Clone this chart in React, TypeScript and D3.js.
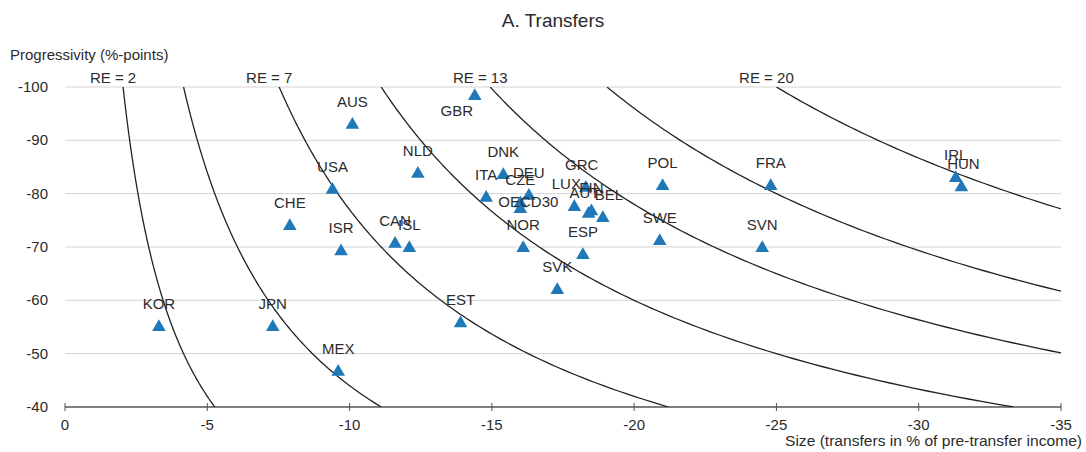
import * as d3 from "d3";
import { useEffect, useRef } from "react";

// country codes and their (size, progressivity)
const countries = ["KOR", "JPN", "MEX", "CHE", "ISR", "USA", "AUS", "NLD", "CAN", "ISL", "EST", "GBR", "ITA", "DNK", "DEU", "CZE", "OECD30", "NOR", "SVK", "ESP", "LUX", "GRC", "AUT", "FIN", "BEL", "SWE", "POL", "SVN", "FRA", "IRL", "HUN"];
const sizes = [-3.3, -7.3, -9.6, -7.9, -9.7, -9.4, -10.1, -12.4, -11.6, -12.1, -13.9, -14.4, -14.8, -15.4, -16.3, -16.0, -16.0, -16.1, -17.3, -18.2, -17.9, -18.3, -18.4, -18.5, -18.9, -20.9, -21.0, -24.5, -24.8, -31.3, -31.5];
const progressivity = [-55.0, -55.0, -46.6, -73.9, -69.2, -80.7, -92.9, -83.7, -70.6, -69.8, -55.7, -98.3, -79.2, -83.5, -79.6, -78.2, -77.1, -69.8, -61.9, -68.5, -77.5, -81.1, -76.2, -76.7, -75.4, -71.1, -81.4, -69.8, -81.4, -82.9, -81.2];

// iso redistributive-effect curves
const reLevels = [2, 4, 7, 10, 13, 16, 20];
const reLabelled = [2, 7, 13, 20];

const xTicks = [0, -5, -10, -15, -20, -25, -30, -35];
const yTicks = [-100, -90, -80, -70, -60, -50, -40];

// label nudges where the default (centred above) spot was not used
const labelNudge: Record<string, [number, number]> = {
	GBR: [-18, 38],
	OECD30: [8, 16],
	LUX: [-8, 0],
	GRC: [-4, 0],
	AUT: [-4, 2],
	BEL: [6, 0],
	HUN: [2, 0],
};

const W = 1086;
const H = 452;
const FONT = "'Liberation Sans', Arial, sans-serif";
const TEXT = "#2b2b2b";
const BLUE = "#1f78b8";

export default function App() {
	const ref = useRef<SVGSVGElement>(null);

	useEffect(() => {
		const svg = d3.select(ref.current);
		svg.selectAll("*").remove();

		const x = d3.scaleLinear().domain([0, -35]).range([65, 1061]);
		const y = d3.scaleLinear().domain([-100, -40]).range([87, 407]);

		svg.append("text")
			.attr("x", 553)
			.attr("y", 27)
			.attr("text-anchor", "middle")
			.attr("font-size", 19)
			.attr("fill", TEXT)
			.text("A. Transfers");

		svg.append("text")
			.attr("x", 10)
			.attr("y", 60)
			.attr("font-size", 15)
			.attr("fill", TEXT)
			.text("Progressivity (%-points)");

		// gridlines
		svg.append("g")
			.selectAll("line")
			.data(yTicks.filter((d) => d !== -40))
			.enter()
			.append("line")
			.attr("x1", x(0))
			.attr("x2", x(-35))
			.attr("y1", (d) => y(d))
			.attr("y2", (d) => y(d))
			.attr("stroke", "#d4d4d4")
			.attr("stroke-width", 1);

		svg.append("g")
			.selectAll("text")
			.data(yTicks)
			.enter()
			.append("text")
			.attr("x", 48)
			.attr("y", (d) => y(d) + 5)
			.attr("text-anchor", "end")
			.attr("font-size", 15)
			.attr("fill", TEXT)
			.text((d) => d);

		// bottom axis
		const xAxis = svg.append("g");
		xAxis.append("line")
			.attr("x1", x(0))
			.attr("x2", x(-35))
			.attr("y1", y(-40))
			.attr("y2", y(-40))
			.attr("stroke", "#555")
			.attr("stroke-width", 1.5);
		xAxis.selectAll(".tk")
			.data(xTicks)
			.enter()
			.append("line")
			.attr("x1", (d) => x(d))
			.attr("x2", (d) => x(d))
			.attr("y1", y(-40) - 4)
			.attr("y2", y(-40) + 4)
			.attr("stroke", "#555");
		xAxis.selectAll("text")
			.data(xTicks)
			.enter()
			.append("text")
			.attr("x", (d) => x(d))
			.attr("y", 430)
			.attr("text-anchor", "middle")
			.attr("font-size", 15)
			.attr("fill", TEXT)
			.text((d) => d);

		svg.append("text")
			.attr("x", 1082)
			.attr("y", 446)
			.attr("text-anchor", "end")
			.attr("font-size", 15)
			.attr("fill", TEXT)
			.attr("textLength", 297)
			.attr("lengthAdjust", "spacingAndGlyphs")
			.text("Size (transfers in % of pre-transfer income)");

		// RE curves: size/(100+size) * P = RE
		svg.append("clipPath")
			.attr("id", "plotclip")
			.append("rect")
			.attr("x", x(0))
			.attr("y", y(-100))
			.attr("width", x(-35) - x(0))
			.attr("height", y(-40) - y(-100));

		const curves = svg.append("g").attr("clip-path", "url(#plotclip)");
		reLevels.forEach((re) => {
			const ps = d3.range(40, 100.01, 0.5);
			const l = d3
				.line<number>()
				.x((p) => x(-(100 * re) / (p - re)))
				.y((p) => y(-p));
			curves.append("path")
				.attr("d", l(ps))
				.attr("fill", "none")
				.attr("stroke", "#222")
				.attr("stroke-width", 1.3);
		});

		svg.append("g")
			.selectAll("text")
			.data(reLabelled)
			.enter()
			.append("text")
			.attr("x", (re) => x(-(100 * re) / (100 - re)) - 10)
			.attr("y", y(-100) - 4)
			.attr("text-anchor", "middle")
			.attr("font-size", 15)
			.attr("fill", TEXT)
			.text((re) => "RE = " + re);

		// markers
		const tri = d3.symbol().type(d3.symbolTriangle).size(80);
		svg.append("g")
			.selectAll("path")
			.data(countries)
			.enter()
			.append("path")
			.attr("d", tri)
			.attr("transform", (d, i) => "translate(" + x(sizes[i]) + "," + y(progressivity[i]) + ")")
			.attr("fill", BLUE);

		svg.append("g")
			.selectAll("text")
			.data(countries)
			.enter()
			.append("text")
			.attr("x", (d, i) => x(sizes[i]) + (labelNudge[d] ? labelNudge[d][0] : 0))
			.attr("y", (d, i) => y(progressivity[i]) - 18 + (labelNudge[d] ? labelNudge[d][1] : 0))
			.attr("text-anchor", "middle")
			.attr("font-size", 15)
			.attr("fill", TEXT)
			.text((d) => d);
	}, []);

	return (
		<svg
			ref={ref}
			width={W}
			height={H}
			style={{ position: "absolute", left: 0, top: 0, background: "#fff", fontFamily: FONT }}
		/>
	);
}
